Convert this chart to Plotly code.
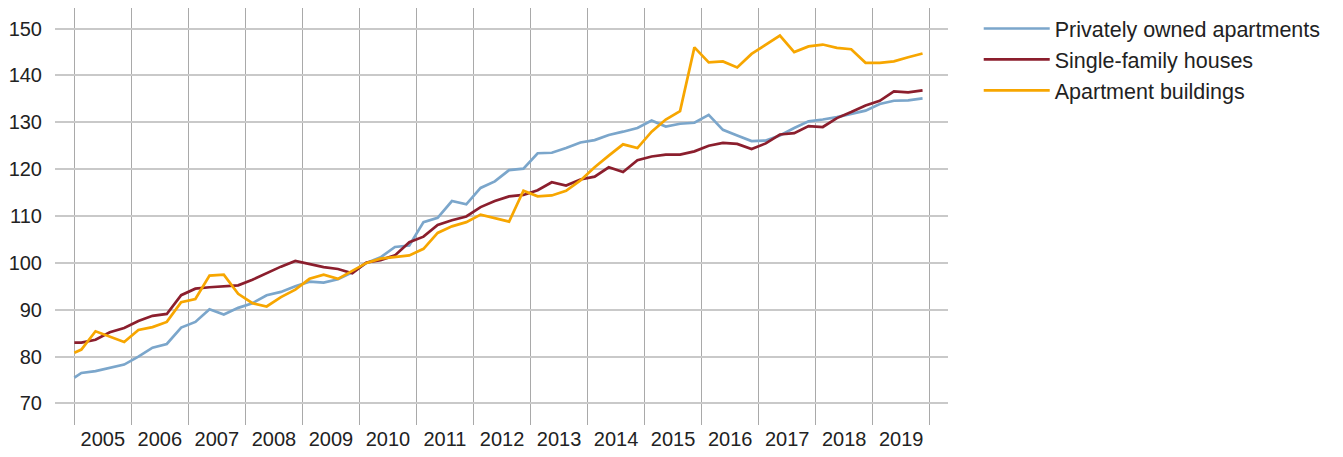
"""House price indices by property type, quarterly, 2005-2019."""

import pandas as pd
import plotly.graph_objects as go

# x categories: a start point on 1 Jan 2005, then one point per quarter
# (plotted at the middle of the quarter)
quarters = pd.period_range("2005Q1", "2019Q4", freq="Q")
x_dates = [pd.Timestamp("2005-01-01")] + [
    q.start_time + (q.end_time - q.start_time) / 2 for q in quarters
]

private_apartments = [
    75.5, 76.5, 76.9, 77.6, 78.3, 80.0, 81.9, 82.7, 86.2, 87.4, 90.1,
    89.0, 90.4, 91.4, 93.1, 93.8, 95.0, 96.0, 95.8, 96.5, 98.0,
    100.0, 101.2, 103.4, 103.7, 108.7, 109.6, 113.2, 112.5, 116.0, 117.4,
    119.8, 120.1, 123.4, 123.5, 124.5, 125.7, 126.2, 127.3, 128.0, 128.8,
    130.4, 129.1, 129.7, 129.9, 131.6, 128.4, 127.2, 126.0, 126.1, 127.2,
    128.8, 130.2, 130.6, 131.1, 131.8, 132.5, 133.9, 134.6, 134.7, 135.1,
]
single_family = [
    83.0, 83.0, 83.6, 85.2, 86.1, 87.6, 88.7, 89.1, 93.1, 94.5, 94.8,
    95.0, 95.2, 96.4, 97.8, 99.2, 100.4, 99.8, 99.1, 98.7, 97.8,
    100.1, 100.6, 101.6, 104.4, 105.6, 108.1, 109.1, 109.9, 111.9, 113.2,
    114.2, 114.5, 115.5, 117.2, 116.5, 117.8, 118.4, 120.4, 119.4, 121.9,
    122.7, 123.1, 123.1, 123.8, 125.0, 125.6, 125.4, 124.3, 125.5, 127.4,
    127.7, 129.2, 129.0, 130.9, 132.2, 133.6, 134.6, 136.6, 136.4, 136.8,
]
apartment_buildings = [
    80.8, 81.5, 85.4, 84.2, 83.1, 85.7, 86.3, 87.4, 91.6, 92.3, 97.3,
    97.5, 93.4, 91.4, 90.7, 92.7, 94.3, 96.6, 97.5, 96.6, 98.4,
    100.0, 100.9, 101.2, 101.6, 103.0, 106.4, 107.8, 108.7, 110.3, 109.6,
    108.8, 115.4, 114.2, 114.4, 115.4, 117.6, 120.4, 122.9, 125.3, 124.5,
    128.0, 130.6, 132.4, 146.0, 142.8, 143.0, 141.7, 144.6, 146.6, 148.5,
    145.0, 146.2, 146.6, 145.9, 145.6, 142.7, 142.7, 143.0, 143.9, 144.7,
]

series = [
    ("Privately owned apartments", private_apartments, "#7ba6cb"),
    ("Single-family houses", single_family, "#8b1e2d"),
    ("Apartment buildings", apartment_buildings, "#f7a600"),
]

FONT = "Liberation Sans, Arial, sans-serif"

fig = go.Figure()
for name, values, color in series:
    fig.add_trace(
        go.Scatter(
            x=x_dates,
            y=values,
            mode="lines",
            name=name,
            line=dict(color=color, width=2.7),
        )
    )

# the page body adds an 8px offset, so the figure is 8px smaller
fig.update_layout(
    width=1335,
    height=449,
    autosize=False,
    margin=dict(l=47, r=395, t=0, b=32),
    plot_bgcolor="white",
    paper_bgcolor="white",
    font=dict(family=FONT, size=20, color="#222222"),
    showlegend=True,
    legend=dict(
        x=1.0344,
        xanchor="left",
        y=1.0,
        yanchor="top",
        font=dict(size=21.5, color="#222222"),
        itemwidth=66,
        bgcolor="rgba(0,0,0,0)",
    ),
)

fig.update_xaxes(
    type="date",
    range=["2004-08-30", "2020-04-27"],
    tick0="2005-01-01",
    dtick="M12",
    tickformat="%Y",
    ticklabelmode="period",
    showgrid=True,
    gridcolor="#a9a9a9",
    gridwidth=1,
    zeroline=False,
    showline=False,
    ticks="",
)
fig.update_yaxes(
    range=[65.4, 154.4],
    tickvals=[70, 80, 90, 100, 110, 120, 130, 140, 150],
    showgrid=True,
    gridcolor="#c9c9c9",
    gridwidth=2,
    zeroline=False,
    showline=False,
    ticks="outside",
    ticklen=8,
    tickcolor="rgba(0,0,0,0)",
)

fig.write_html("out.html")
